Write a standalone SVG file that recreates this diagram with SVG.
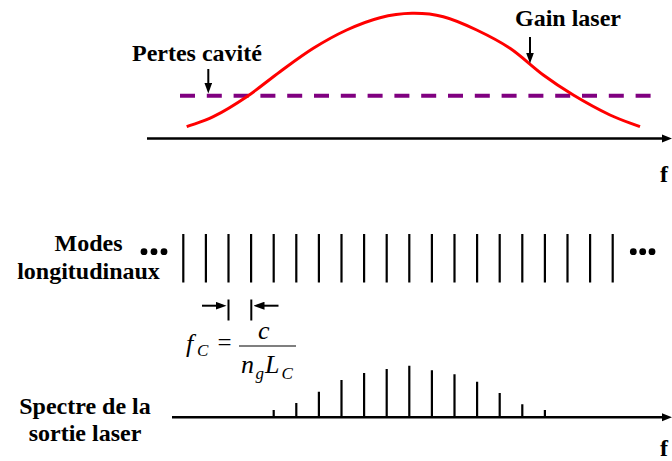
<svg xmlns="http://www.w3.org/2000/svg" width="672" height="461" viewBox="0 0 672 461">
<style>
text{font-family:"Liberation Serif","DejaVu Serif","Times New Roman",serif;fill:#000}
.lbl{font-weight:bold;font-size:24px}
.math{font-style:italic;font-size:26px}
.sub{font-style:italic;font-size:17px}
.mathr{font-size:25px}
.axis{stroke:#000;stroke-width:2.6;fill:none}
.tick{stroke:#000;stroke-width:2.2;fill:none}
.ptr{stroke:#000;stroke-width:2;fill:none}
</style>
<defs>
<marker id="ah" viewBox="0 0 11 8" refX="7" refY="4" markerWidth="11" markerHeight="8" markerUnits="userSpaceOnUse" orient="auto">
<path d="M0,0 L11,4 L0,8 z" fill="#000"/>
</marker>
<marker id="ax" viewBox="0 0 10 10" refX="4" refY="5" markerWidth="10" markerHeight="10" markerUnits="userSpaceOnUse" orient="auto">
<path d="M0,1 L10,5 L0,9 z" fill="#000"/>
</marker>
</defs>

<g id="top-axis">
<line class="axis" x1="147" y1="138.5" x2="666" y2="138.5" marker-end="url(#ax)"/>
<text class="lbl" x="660" y="182">f</text>
</g>

<g id="pertes">
<line x1="180" y1="95.7" x2="652" y2="95.7" stroke="#800080" stroke-width="4" stroke-dasharray="15 11.8"/>
<text class="lbl" x="132" y="61">Pertes cavité</text>
</g>

<g id="gain">
<path d="M186.7,126.7 C195.6,123.4 203.3,121.7 213.3,116.7 C223.3,111.7 235.6,104.2 246.7,96.7 C257.8,89.2 268.9,79.8 280,71.7 C291.1,63.6 302.2,55.25 313.3,48.3 C324.4,41.35 335.6,35.1 346.7,30 C357.8,24.9 369.1,20.5 380,17.7 C390.9,14.9 401.45,13.47 412,13.3 C422.55,13.13 432.5,13.9 443.3,16.7 C454.1,19.5 465.6,24.7 476.7,30 C487.8,35.3 498.9,40.8 510,48.3 C521.1,55.8 532.75,67.2 543.3,75 C553.85,82.8 562.2,88.3 573.3,95 C584.4,101.7 598.9,109.7 610,115 C621.1,120.3 630,122.8 640,126.7" fill="none" stroke="#ff0000" stroke-width="3"/>
<text class="lbl" x="515" y="26">Gain laser</text>
</g>

<g id="connectors">
<line class="ptr" x1="208.3" y1="69" x2="208.3" y2="89.5" marker-end="url(#ah)"/>
<line class="ptr" x1="530" y1="37" x2="530" y2="59.5" marker-end="url(#ah)"/>
<line class="ptr" x1="202" y1="305.7" x2="222.5" y2="305.7" marker-end="url(#ah)"/>
<line class="ptr" x1="278.5" y1="305.7" x2="257.5" y2="305.7" marker-end="url(#ah)"/>
</g>

<g id="modes">
<text class="lbl" x="88.5" y="251" text-anchor="middle">Modes</text>
<text class="lbl" x="88.5" y="279" text-anchor="middle">longitudinaux</text>
<g fill="#000">
<circle cx="144" cy="251.7" r="3.4"/><circle cx="154" cy="251.7" r="3.4"/><circle cx="164" cy="251.7" r="3.4"/>
<circle cx="633.3" cy="251.7" r="3.4"/><circle cx="642.7" cy="251.7" r="3.4"/><circle cx="652" cy="251.7" r="3.4"/>
</g>
<path class="tick" d="M183.3,234V282.5 M205.9,234V282.5 M228.5,234V282.5 M251.1,234V282.5 M273.7,234V282.5 M296.3,234V282.5 M318.9,234V282.5 M341.5,234V282.5 M364.1,234V282.5 M386.7,234V282.5 M409.3,234V282.5 M431.9,234V282.5 M454.5,234V282.5 M477.1,234V282.5 M499.7,234V282.5 M522.3,234V282.5 M544.9,234V282.5 M567.5,234V282.5 M590.1,234V282.5 M612.7,234V282.5"/>
</g>

<g id="spacing">
<path class="ptr" d="M228.5,299.5V320.5 M251.3,299.5V320.5"/>
<text class="math" x="186" y="352">f</text>
<text class="sub" x="197" y="356">C</text>
<text class="mathr" x="224.5" y="351" text-anchor="middle">=</text>
<line x1="239" y1="346" x2="296" y2="346" stroke="#000" stroke-width="1.2"/>
<text class="math" x="258" y="339">c</text>
<text class="math" x="241" y="372.7">n</text>
<text class="sub" x="255.5" y="379">g</text>
<text class="math" x="265" y="372.7">L</text>
<text class="sub" x="281.5" y="379">C</text>
</g>

<g id="spectre">
<text class="lbl" x="85" y="414" text-anchor="middle">Spectre de la</text>
<text class="lbl" x="85" y="441" text-anchor="middle">sortie laser</text>
<line class="axis" x1="172" y1="417.3" x2="666" y2="417.3" marker-end="url(#ax)"/>
<path class="tick" d="M273.7,417V410 M296.3,417V403 M318.9,417V391.7 M341.5,417V380 M364.1,417V373 M386.7,417V369 M409.3,417V365.7 M431.9,417V370.3 M454.5,417V374.3 M477.1,417V381.7 M499.7,417V393 M522.3,417V404.3 M544.9,417V410"/>
<text class="lbl" x="660" y="456">f</text>
</g>
</svg>
